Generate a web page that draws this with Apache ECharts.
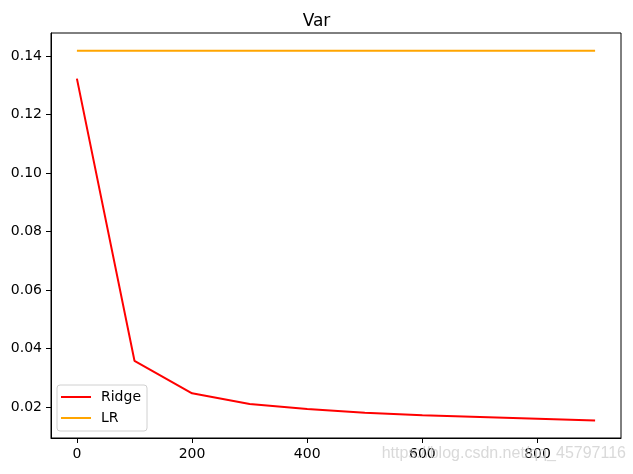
<!DOCTYPE html>
<html>
<head>
<meta charset="utf-8">
<script src="https://cdn.jsdelivr.net/npm/echarts@6/dist/echarts.min.js"></script>
<style>html,body{margin:0;padding:0;background:#fff}#c{width:633px;height:474px}</style>
</head>
<body>
<div id="c"></div>
<script>
var xValues = [0, 100, 200, 300, 400, 500, 600, 700, 800, 900];
var ridgeValues = [0.1323, 0.0358, 0.0247, 0.0210, 0.0193, 0.0180, 0.0172, 0.0166, 0.0160, 0.0154];
var lrValues = [0.1418, 0.1418, 0.1418, 0.1418, 0.1418, 0.1418, 0.1418, 0.1418, 0.1418, 0.1418];
var xTicks = [0, 200, 400, 600, 800];
var yTicks = [0.02, 0.04, 0.06, 0.08, 0.10, 0.12, 0.14];
var titleText = 'Var';
var seriesNames = ['Ridge', 'LR'];
var watermark = 'https://blog.csdn.net/qq_45797116';

function pairs(xs, ys) { return xs.map(function (x, i) { return [x, ys[i]]; }); }

var font = 'DejaVu Sans';
var chart = echarts.init(document.getElementById('c'), null, {renderer: 'canvas'});
chart.setOption({
  animation: false,
  backgroundColor: '#fff',
  title: {
    text: titleText, left: 'center', top: 8,
    textStyle: {fontFamily: font, fontSize: 17, fontWeight: 'normal', color: '#000'}
  },
  grid: {left: 51, right: 12, top: 33, bottom: 36, show: true, borderColor: '#000', borderWidth: 1, backgroundColor: 'transparent'},
  legend: {
    orient: 'vertical', left: 57, top: 385,
    data: seriesNames,
    icon: 'rect', itemWidth: 30, itemHeight: 2, itemGap: 5,
    padding: [4, 6, 5, 4],
    backgroundColor: 'rgba(255,255,255,0.8)', borderColor: '#d0d0d0', borderWidth: 1, borderRadius: 3,
    textStyle: {fontFamily: font, fontSize: 14, color: '#000', lineHeight: 16, padding: [0, 0, 0, 5]}
  },
  xAxis: {
    type: 'value', min: -45, max: 945,
    axisLine: {show: true, onZero: false, lineStyle: {color: '#000', width: 1}},
    axisTick: {show: true, inside: false, length: 5, customValues: xTicks, lineStyle: {color: '#000'}},
    axisLabel: {customValues: xTicks, margin: 9, fontFamily: font, fontSize: 14, color: '#000'},
    splitLine: {show: false}
  },
  yAxis: {
    type: 'value', min: 0.0094, max: 0.1479,
    axisLine: {show: true, onZero: false, lineStyle: {color: '#000', width: 1}},
    axisTick: {show: true, inside: false, length: 5, customValues: yTicks, lineStyle: {color: '#000'}},
    axisLabel: {customValues: yTicks, margin: 9, fontFamily: font, fontSize: 14, color: '#000',
      formatter: function (v) { return v.toFixed(2); }},
    splitLine: {show: false}
  },
  series: [
    {name: seriesNames[0], type: 'line', data: pairs(xValues, ridgeValues), showSymbol: false, symbol: 'none',
      lineStyle: {color: '#ff0000', width: 2}, itemStyle: {color: '#ff0000'}},
    {name: seriesNames[1], type: 'line', data: pairs(xValues, lrValues), showSymbol: false, symbol: 'none',
      lineStyle: {color: '#ffa500', width: 2}, itemStyle: {color: '#ffa500'}}
  ],
  graphic: [{
    type: 'text', right: 7, top: 446, z: 100,
    style: {text: watermark, fill: 'rgba(210,210,210,0.85)', font: '16px "Liberation Sans"'}
  }]
});
</script>
</body>
</html>
